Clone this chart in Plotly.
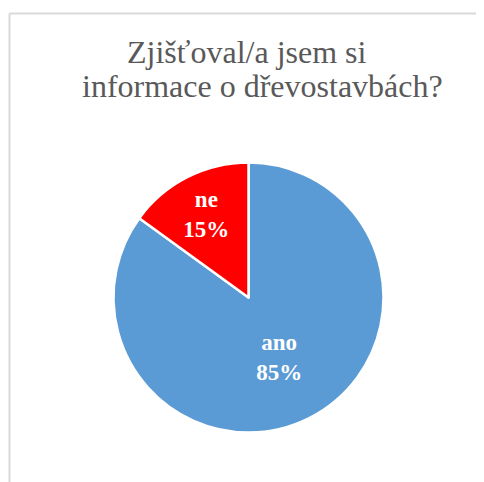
import plotly.graph_objects as go

labels = ["ano", "ne"]
values = [85, 15]
colors = ["#5B9BD5", "#FF0000"]
title_lines = ["Zjišťoval/a jsem si", "informace o dřevostavbách?"]

W, H = 484, 482
OFF = 8  # page body margin
cx, cy, r = 248.5 - OFF, 297.5 - OFF, 135

fig = go.Figure(go.Pie(
    labels=labels,
    values=values,
    sort=False,
    direction="clockwise",
    rotation=0,
    marker=dict(colors=colors, line=dict(color="white", width=2.5)),
    texttemplate="%{label}<br>%{percent:.0%}",
    textposition="inside",
    insidetextorientation="horizontal",
    textfont=dict(family="Liberation Serif", size=23, color="white", weight="bold"),
    domain=dict(x=[(cx - r) / W, (cx + r) / W], y=[(H - cy - r) / H, (H - cy + r) / H]),
    showlegend=False,
    hoverinfo="label+percent",
))

title_x = [247 - OFF, 262 - OFF]
title_y = [44, 78]
annotations = [
    dict(text=t, xref="paper", yref="paper", x=x / W, y=1 - y / H,
         xanchor="center", yanchor="middle", showarrow=False,
         font=dict(family="Liberation Serif", size=32, color="#595959"))
    for t, x, y in zip(title_lines, title_x, title_y)
]

fig.update_layout(
    width=W, height=H,
    margin=dict(l=0, r=0, t=0, b=0),
    paper_bgcolor="white",
    annotations=annotations,
    shapes=[
        dict(type="line", xref="paper", yref="paper", x0=(9.5 - OFF) / W, x1=1,
             y0=1 - (13.5 - OFF) / H, y1=1 - (13.5 - OFF) / H,
             line=dict(color="#D9D9D9", width=2)),
        dict(type="line", xref="paper", yref="paper", x0=(9.5 - OFF) / W, x1=(9.5 - OFF) / W,
             y0=0, y1=1 - (13.5 - OFF) / H,
             line=dict(color="#D9D9D9", width=2)),
    ],
)

fig.write_html("out.html")
